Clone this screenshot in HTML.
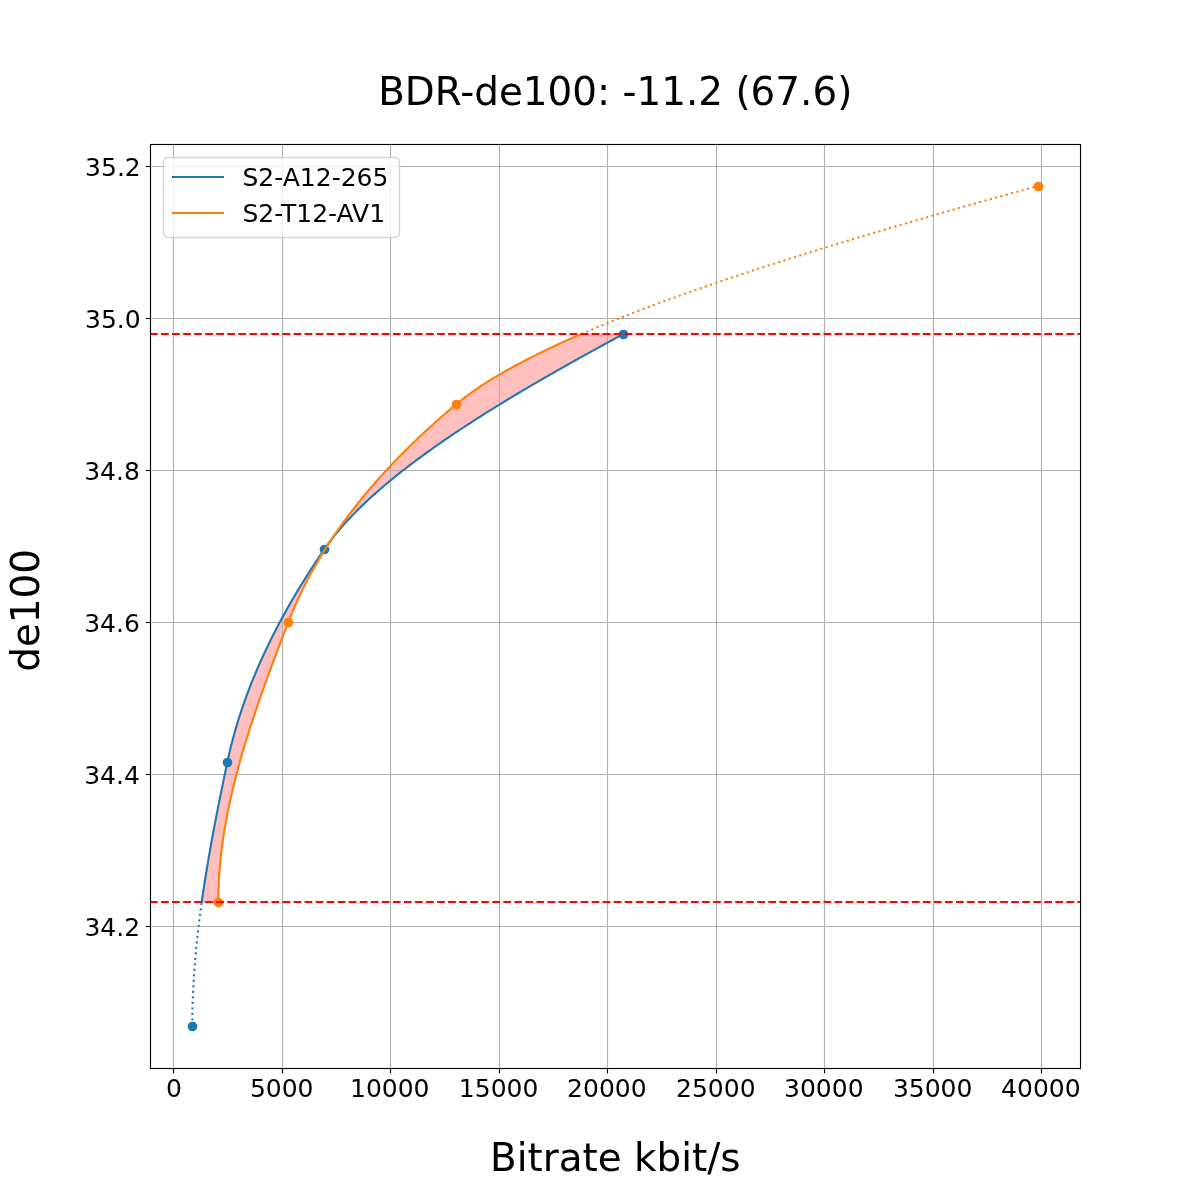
<!DOCTYPE html>
<html lang="en"><head><meta charset="utf-8"><title>BDR-de100</title>
<style>html,body{margin:0;padding:0;background:#fff}svg{display:block}</style></head>
<body>
<svg width="1200" height="1200" viewBox="0 0 1200 1200">
<rect x="0" y="0" width="1200" height="1200" fill="#ffffff"/>
<defs><clipPath id="ax"><rect x="150" y="144" width="930" height="924"/></clipPath></defs>
<g clip-path="url(#ax)">
<path d="M201.75 901.94 L202.15 899.08 L202.57 896.23 L202.98 893.38 L203.41 890.52 L203.84 887.67 L204.27 884.82 L204.72 881.96 L205.16 879.11 L205.62 876.26 L206.08 873.40 L206.54 870.55 L207.02 867.70 L207.49 864.84 L207.97 861.99 L208.46 859.14 L208.95 856.28 L209.45 853.43 L209.95 850.57 L210.46 847.72 L210.97 844.87 L211.49 842.01 L212.01 839.16 L212.53 836.31 L213.06 833.45 L213.60 830.60 L214.13 827.75 L214.68 824.89 L215.22 822.04 L215.77 819.19 L216.32 816.33 L216.88 813.48 L217.44 810.63 L218.00 807.77 L218.56 804.92 L219.13 802.06 L219.70 799.21 L220.28 796.36 L220.85 793.50 L221.43 790.65 L222.01 787.80 L222.60 784.94 L223.18 782.09 L223.77 779.24 L224.36 776.38 L224.95 773.53 L225.55 770.68 L226.14 767.82 L226.74 764.97 L227.34 762.11 L227.94 759.26 L228.57 756.41 L229.22 753.55 L229.89 750.70 L230.58 747.85 L231.29 744.99 L232.02 742.14 L232.77 739.29 L233.53 736.43 L234.32 733.58 L235.13 730.73 L235.95 727.87 L236.80 725.02 L237.67 722.17 L238.55 719.31 L239.45 716.46 L240.38 713.60 L241.32 710.75 L242.28 707.90 L243.26 705.04 L244.26 702.19 L245.28 699.34 L246.31 696.48 L247.37 693.63 L248.45 690.78 L249.54 687.92 L250.65 685.07 L251.78 682.22 L252.93 679.36 L254.10 676.51 L255.29 673.65 L256.49 670.80 L257.72 667.95 L258.96 665.09 L260.22 662.24 L261.50 659.39 L262.80 656.53 L264.11 653.68 L265.45 650.83 L266.80 647.97 L268.17 645.12 L269.56 642.27 L270.96 639.41 L272.39 636.56 L273.83 633.71 L275.29 630.85 L276.76 628.00 L278.26 625.14 L279.77 622.29 L281.30 619.44 L282.85 616.58 L284.42 613.73 L286.00 610.88 L287.60 608.02 L289.22 605.17 L290.85 602.32 L292.50 599.46 L294.17 596.61 L295.86 593.76 L297.56 590.90 L299.28 588.05 L301.02 585.20 L302.78 582.34 L304.55 579.49 L306.34 576.63 L308.14 573.78 L309.97 570.93 L311.81 568.07 L313.66 565.22 L315.53 562.37 L317.42 559.51 L319.33 556.66 L321.25 553.81 L323.19 550.95 L325.15 548.10 L327.17 545.25 L329.26 542.39 L331.41 539.54 L333.64 536.68 L335.94 533.83 L338.30 530.98 L340.73 528.12 L343.22 525.27 L345.78 522.42 L348.40 519.56 L351.09 516.71 L353.84 513.86 L356.66 511.00 L359.53 508.15 L362.47 505.30 L365.47 502.44 L368.52 499.59 L371.64 496.74 L374.81 493.88 L378.04 491.03 L381.33 488.17 L384.67 485.32 L388.07 482.47 L391.52 479.61 L395.03 476.76 L398.58 473.91 L402.20 471.05 L405.86 468.20 L409.58 465.35 L413.34 462.49 L417.16 459.64 L421.02 456.79 L424.93 453.93 L428.89 451.08 L432.90 448.23 L436.95 445.37 L441.05 442.52 L445.19 439.66 L449.37 436.81 L453.60 433.96 L457.88 431.10 L462.19 428.25 L466.54 425.40 L470.94 422.54 L475.38 419.69 L479.85 416.84 L484.36 413.98 L488.91 411.13 L493.50 408.28 L498.12 405.42 L502.78 402.57 L507.47 399.71 L512.20 396.86 L516.96 394.01 L521.75 391.15 L526.58 388.30 L531.43 385.45 L536.32 382.59 L541.24 379.74 L546.18 376.89 L551.16 374.03 L556.16 371.18 L561.19 368.33 L566.24 365.47 L571.32 362.62 L576.43 359.77 L581.56 356.91 L586.71 354.06 L591.89 351.20 L597.08 348.35 L602.30 345.50 L607.54 342.64 L612.80 339.79 L618.08 336.94 L623.38 334.08 L581.17 334.08 L574.62 336.94 L568.19 339.79 L561.87 342.64 L555.67 345.50 L549.59 348.35 L543.62 351.20 L537.77 354.06 L532.05 356.91 L526.45 359.77 L520.97 362.62 L515.62 365.47 L510.40 368.33 L505.31 371.18 L500.35 374.03 L495.52 376.89 L490.83 379.74 L486.27 382.59 L481.85 385.45 L477.56 388.30 L473.42 391.15 L469.42 394.01 L465.56 396.86 L461.85 399.71 L458.29 402.57 L454.85 405.42 L451.47 408.28 L448.13 411.13 L444.82 413.98 L441.54 416.84 L438.30 419.69 L435.09 422.54 L431.92 425.40 L428.78 428.25 L425.67 431.10 L422.60 433.96 L419.56 436.81 L416.55 439.66 L413.58 442.52 L410.64 445.37 L407.73 448.23 L404.86 451.08 L402.02 453.93 L399.21 456.79 L396.43 459.64 L393.69 462.49 L390.98 465.35 L388.30 468.20 L385.65 471.05 L383.04 473.91 L380.45 476.76 L377.90 479.61 L375.38 482.47 L372.89 485.32 L370.44 488.17 L368.01 491.03 L365.62 493.88 L363.25 496.74 L360.92 499.59 L358.62 502.44 L356.35 505.30 L354.11 508.15 L351.90 511.00 L349.72 513.86 L347.57 516.71 L345.45 519.56 L343.36 522.42 L341.30 525.27 L339.27 528.12 L337.27 530.98 L335.30 533.83 L333.36 536.68 L331.45 539.54 L329.57 542.39 L327.71 545.25 L325.89 548.10 L324.09 550.95 L322.33 553.81 L320.59 556.66 L318.88 559.51 L317.20 562.37 L315.54 565.22 L313.92 568.07 L312.32 570.93 L310.75 573.78 L309.21 576.63 L307.70 579.49 L306.21 582.34 L304.75 585.20 L303.32 588.05 L301.91 590.90 L300.54 593.76 L299.18 596.61 L297.86 599.46 L296.56 602.32 L295.29 605.17 L294.05 608.02 L292.83 610.88 L291.64 613.73 L290.48 616.58 L289.34 619.44 L288.22 622.29 L287.12 625.14 L286.02 628.00 L284.93 630.85 L283.83 633.71 L282.74 636.56 L281.65 639.41 L280.56 642.27 L279.47 645.12 L278.39 647.97 L277.31 650.83 L276.23 653.68 L275.16 656.53 L274.09 659.39 L273.02 662.24 L271.96 665.09 L270.90 667.95 L269.85 670.80 L268.80 673.65 L267.76 676.51 L266.72 679.36 L265.69 682.22 L264.66 685.07 L263.64 687.92 L262.62 690.78 L261.61 693.63 L260.61 696.48 L259.61 699.34 L258.62 702.19 L257.64 705.04 L256.66 707.90 L255.69 710.75 L254.73 713.60 L253.78 716.46 L252.84 719.31 L251.90 722.17 L250.97 725.02 L250.05 727.87 L249.14 730.73 L248.24 733.58 L247.34 736.43 L246.46 739.29 L245.59 742.14 L244.72 744.99 L243.87 747.85 L243.02 750.70 L242.19 753.55 L241.37 756.41 L240.55 759.26 L239.75 762.11 L238.96 764.97 L238.19 767.82 L237.42 770.68 L236.66 773.53 L235.92 776.38 L235.19 779.24 L234.47 782.09 L233.77 784.94 L233.07 787.80 L232.40 790.65 L231.73 793.50 L231.08 796.36 L230.44 799.21 L229.81 802.06 L229.20 804.92 L228.60 807.77 L228.02 810.63 L227.45 813.48 L226.90 816.33 L226.36 819.19 L225.84 822.04 L225.34 824.89 L224.84 827.75 L224.37 830.60 L223.91 833.45 L223.47 836.31 L223.04 839.16 L222.63 842.01 L222.24 844.87 L221.86 847.72 L221.51 850.57 L221.17 853.43 L220.84 856.28 L220.54 859.14 L220.25 861.99 L219.99 864.84 L219.74 867.70 L219.51 870.55 L219.29 873.40 L219.10 876.26 L218.93 879.11 L218.77 881.96 L218.64 884.82 L218.53 887.67 L218.43 890.52 L218.36 893.38 L218.31 896.23 L218.28 899.08 L218.27 901.94Z" fill="#ff0000" fill-opacity="0.25" stroke="#ff0000" stroke-opacity="0.25" stroke-width="1.389"/>
</g>
<g stroke="#b0b0b0" stroke-width="1.111" clip-path="url(#ax)">
<line x1="173.5" y1="144" x2="173.5" y2="1068"/>
<line x1="282.5" y1="144" x2="282.5" y2="1068"/>
<line x1="390.5" y1="144" x2="390.5" y2="1068"/>
<line x1="499.5" y1="144" x2="499.5" y2="1068"/>
<line x1="607.5" y1="144" x2="607.5" y2="1068"/>
<line x1="716.5" y1="144" x2="716.5" y2="1068"/>
<line x1="824.5" y1="144" x2="824.5" y2="1068"/>
<line x1="933.5" y1="144" x2="933.5" y2="1068"/>
<line x1="1041.5" y1="144" x2="1041.5" y2="1068"/>
<line x1="150" y1="926.5" x2="1080" y2="926.5"/>
<line x1="150" y1="774.5" x2="1080" y2="774.5"/>
<line x1="150" y1="622.5" x2="1080" y2="622.5"/>
<line x1="150" y1="470.5" x2="1080" y2="470.5"/>
<line x1="150" y1="318.5" x2="1080" y2="318.5"/>
<line x1="150" y1="166.5" x2="1080" y2="166.5"/>
</g>
<g stroke="#000000" stroke-width="1.111">
<line x1="173.5" y1="1068.50" x2="173.5" y2="1073.36"/>
<line x1="282.5" y1="1068.50" x2="282.5" y2="1073.36"/>
<line x1="390.5" y1="1068.50" x2="390.5" y2="1073.36"/>
<line x1="499.5" y1="1068.50" x2="499.5" y2="1073.36"/>
<line x1="607.5" y1="1068.50" x2="607.5" y2="1073.36"/>
<line x1="716.5" y1="1068.50" x2="716.5" y2="1073.36"/>
<line x1="824.5" y1="1068.50" x2="824.5" y2="1073.36"/>
<line x1="933.5" y1="1068.50" x2="933.5" y2="1073.36"/>
<line x1="1041.5" y1="1068.50" x2="1041.5" y2="1073.36"/>
<line x1="145.64" y1="926.5" x2="150.50" y2="926.5"/>
<line x1="145.64" y1="774.5" x2="150.50" y2="774.5"/>
<line x1="145.64" y1="622.5" x2="150.50" y2="622.5"/>
<line x1="145.64" y1="470.5" x2="150.50" y2="470.5"/>
<line x1="145.64" y1="318.5" x2="150.50" y2="318.5"/>
<line x1="145.64" y1="166.5" x2="150.50" y2="166.5"/>
</g>
<g font-family="'DejaVu Sans', 'Liberation Sans', sans-serif" font-size="25.000px" fill="#000000">
<text x="173.95" y="1096.72" text-anchor="middle">0</text>
<text x="281.70" y="1096.72" text-anchor="middle">5000</text>
<text x="389.78" y="1096.72" text-anchor="middle">10000</text>
<text x="498.62" y="1096.72" text-anchor="middle">15000</text>
<text x="606.87" y="1096.72" text-anchor="middle">20000</text>
<text x="715.79" y="1096.72" text-anchor="middle">25000</text>
<text x="823.83" y="1096.72" text-anchor="middle">30000</text>
<text x="932.66" y="1096.72" text-anchor="middle">35000</text>
<text x="1040.85" y="1096.72" text-anchor="middle">40000</text>
<text x="140.08" y="935.91" text-anchor="end">34.2</text>
<text x="139.88" y="783.88" text-anchor="end">34.4</text>
<text x="139.88" y="631.84" text-anchor="end">34.6</text>
<text x="139.88" y="479.81" text-anchor="end">34.8</text>
<text x="140.68" y="327.77" text-anchor="end">35.0</text>
<text x="140.78" y="175.73" text-anchor="end">35.2</text>
</g>
<g clip-path="url(#ax)" stroke-linejoin="round">
<circle cx="192.50" cy="1026.50" r="4.167" fill="#1f77b4" stroke="#1f77b4" stroke-width="1.389"/>
<circle cx="227.50" cy="762.50" r="4.167" fill="#1f77b4" stroke="#1f77b4" stroke-width="1.389"/>
<circle cx="324.50" cy="549.50" r="4.167" fill="#1f77b4" stroke="#1f77b4" stroke-width="1.389"/>
<circle cx="623.50" cy="334.50" r="4.167" fill="#1f77b4" stroke="#1f77b4" stroke-width="1.389"/>
<path d="M201.75 901.94 L202.15 899.08 L202.57 896.23 L202.98 893.38 L203.41 890.52 L203.84 887.67 L204.27 884.82 L204.72 881.96 L205.16 879.11 L205.62 876.26 L206.08 873.40 L206.54 870.55 L207.02 867.70 L207.49 864.84 L207.97 861.99 L208.46 859.14 L208.95 856.28 L209.45 853.43 L209.95 850.57 L210.46 847.72 L210.97 844.87 L211.49 842.01 L212.01 839.16 L212.53 836.31 L213.06 833.45 L213.60 830.60 L214.13 827.75 L214.68 824.89 L215.22 822.04 L215.77 819.19 L216.32 816.33 L216.88 813.48 L217.44 810.63 L218.00 807.77 L218.56 804.92 L219.13 802.06 L219.70 799.21 L220.28 796.36 L220.85 793.50 L221.43 790.65 L222.01 787.80 L222.60 784.94 L223.18 782.09 L223.77 779.24 L224.36 776.38 L224.95 773.53 L225.55 770.68 L226.14 767.82 L226.74 764.97 L227.34 762.11 L227.94 759.26 L228.57 756.41 L229.22 753.55 L229.89 750.70 L230.58 747.85 L231.29 744.99 L232.02 742.14 L232.77 739.29 L233.53 736.43 L234.32 733.58 L235.13 730.73 L235.95 727.87 L236.80 725.02 L237.67 722.17 L238.55 719.31 L239.45 716.46 L240.38 713.60 L241.32 710.75 L242.28 707.90 L243.26 705.04 L244.26 702.19 L245.28 699.34 L246.31 696.48 L247.37 693.63 L248.45 690.78 L249.54 687.92 L250.65 685.07 L251.78 682.22 L252.93 679.36 L254.10 676.51 L255.29 673.65 L256.49 670.80 L257.72 667.95 L258.96 665.09 L260.22 662.24 L261.50 659.39 L262.80 656.53 L264.11 653.68 L265.45 650.83 L266.80 647.97 L268.17 645.12 L269.56 642.27 L270.96 639.41 L272.39 636.56 L273.83 633.71 L275.29 630.85 L276.76 628.00 L278.26 625.14 L279.77 622.29 L281.30 619.44 L282.85 616.58 L284.42 613.73 L286.00 610.88 L287.60 608.02 L289.22 605.17 L290.85 602.32 L292.50 599.46 L294.17 596.61 L295.86 593.76 L297.56 590.90 L299.28 588.05 L301.02 585.20 L302.78 582.34 L304.55 579.49 L306.34 576.63 L308.14 573.78 L309.97 570.93 L311.81 568.07 L313.66 565.22 L315.53 562.37 L317.42 559.51 L319.33 556.66 L321.25 553.81 L323.19 550.95 L325.15 548.10 L327.17 545.25 L329.26 542.39 L331.41 539.54 L333.64 536.68 L335.94 533.83 L338.30 530.98 L340.73 528.12 L343.22 525.27 L345.78 522.42 L348.40 519.56 L351.09 516.71 L353.84 513.86 L356.66 511.00 L359.53 508.15 L362.47 505.30 L365.47 502.44 L368.52 499.59 L371.64 496.74 L374.81 493.88 L378.04 491.03 L381.33 488.17 L384.67 485.32 L388.07 482.47 L391.52 479.61 L395.03 476.76 L398.58 473.91 L402.20 471.05 L405.86 468.20 L409.58 465.35 L413.34 462.49 L417.16 459.64 L421.02 456.79 L424.93 453.93 L428.89 451.08 L432.90 448.23 L436.95 445.37 L441.05 442.52 L445.19 439.66 L449.37 436.81 L453.60 433.96 L457.88 431.10 L462.19 428.25 L466.54 425.40 L470.94 422.54 L475.38 419.69 L479.85 416.84 L484.36 413.98 L488.91 411.13 L493.50 408.28 L498.12 405.42 L502.78 402.57 L507.47 399.71 L512.20 396.86 L516.96 394.01 L521.75 391.15 L526.58 388.30 L531.43 385.45 L536.32 382.59 L541.24 379.74 L546.18 376.89 L551.16 374.03 L556.16 371.18 L561.19 368.33 L566.24 365.47 L571.32 362.62 L576.43 359.77 L581.56 356.91 L586.71 354.06 L591.89 351.20 L597.08 348.35 L602.30 345.50 L607.54 342.64 L612.80 339.79 L618.08 336.94 L623.38 334.08" fill="none" stroke="#1f77b4" stroke-width="2.083" stroke-linecap="square"/>
<path d="M192.27 1026.00 L192.27 1025.38 L192.27 1024.75 L192.28 1024.13 L192.28 1023.51 L192.28 1022.88 L192.28 1022.26 L192.29 1021.64 L192.29 1021.01 L192.30 1020.39 L192.30 1019.77 L192.31 1019.14 L192.31 1018.52 L192.32 1017.90 L192.33 1017.27 L192.33 1016.65 L192.34 1016.03 L192.35 1015.40 L192.36 1014.78 L192.37 1014.15 L192.38 1013.53 L192.39 1012.91 L192.41 1012.28 L192.42 1011.66 L192.43 1011.04 L192.44 1010.41 L192.46 1009.79 L192.47 1009.17 L192.49 1008.54 L192.50 1007.92 L192.52 1007.30 L192.53 1006.67 L192.55 1006.05 L192.57 1005.43 L192.59 1004.80 L192.61 1004.18 L192.62 1003.56 L192.64 1002.93 L192.66 1002.31 L192.68 1001.69 L192.71 1001.06 L192.73 1000.44 L192.75 999.82 L192.77 999.19 L192.79 998.57 L192.82 997.95 L192.84 997.32 L192.87 996.70 L192.89 996.08 L192.92 995.45 L192.94 994.83 L192.97 994.21 L193.00 993.58 L193.02 992.96 L193.05 992.34 L193.08 991.71 L193.11 991.09 L193.14 990.46 L193.17 989.84 L193.20 989.22 L193.23 988.59 L193.26 987.97 L193.30 987.35 L193.33 986.72 L193.36 986.10 L193.39 985.48 L193.43 984.85 L193.46 984.23 L193.50 983.61 L193.53 982.98 L193.57 982.36 L193.60 981.74 L193.64 981.11 L193.68 980.49 L193.72 979.87 L193.75 979.24 L193.79 978.62 L193.83 978.00 L193.87 977.37 L193.91 976.75 L193.95 976.13 L193.99 975.50 L194.04 974.88 L194.08 974.26 L194.12 973.63 L194.16 973.01 L194.21 972.39 L194.25 971.76 L194.29 971.14 L194.34 970.52 L194.38 969.89 L194.43 969.27 L194.47 968.64 L194.52 968.02 L194.57 967.40 L194.62 966.77 L194.66 966.15 L194.71 965.53 L194.76 964.90 L194.81 964.28 L194.86 963.66 L194.91 963.03 L194.96 962.41 L195.01 961.79 L195.06 961.16 L195.11 960.54 L195.17 959.92 L195.22 959.29 L195.27 958.67 L195.32 958.05 L195.38 957.42 L195.43 956.80 L195.49 956.18 L195.54 955.55 L195.60 954.93 L195.65 954.31 L195.71 953.68 L195.77 953.06 L195.82 952.44 L195.88 951.81 L195.94 951.19 L196.00 950.57 L196.06 949.94 L196.12 949.32 L196.18 948.70 L196.24 948.07 L196.30 947.45 L196.36 946.83 L196.42 946.20 L196.48 945.58 L196.54 944.95 L196.61 944.33 L196.67 943.71 L196.73 943.08 L196.80 942.46 L196.86 941.84 L196.93 941.21 L196.99 940.59 L197.06 939.97 L197.12 939.34 L197.19 938.72 L197.26 938.10 L197.32 937.47 L197.39 936.85 L197.46 936.23 L197.53 935.60 L197.59 934.98 L197.66 934.36 L197.73 933.73 L197.80 933.11 L197.87 932.49 L197.94 931.86 L198.01 931.24 L198.08 930.62 L198.16 929.99 L198.23 929.37 L198.30 928.75 L198.37 928.12 L198.45 927.50 L198.52 926.88 L198.59 926.25 L198.67 925.63 L198.74 925.01 L198.82 924.38 L198.89 923.76 L198.97 923.13 L199.04 922.51 L199.12 921.89 L199.20 921.26 L199.28 920.64 L199.35 920.02 L199.43 919.39 L199.51 918.77 L199.59 918.15 L199.67 917.52 L199.75 916.90 L199.83 916.28 L199.91 915.65 L199.99 915.03 L200.07 914.41 L200.15 913.78 L200.23 913.16 L200.31 912.54 L200.39 911.91 L200.47 911.29 L200.56 910.67 L200.64 910.04 L200.72 909.42 L200.81 908.80 L200.89 908.17 L200.98 907.55 L201.06 906.93 L201.15 906.30 L201.23 905.68 L201.32 905.06 L201.40 904.43 L201.49 903.81 L201.58 903.19 L201.66 902.56 L201.75 901.94" fill="none" stroke="#1f77b4" stroke-width="2.083" stroke-dasharray="2.083 3.437"/>
<circle cx="218.50" cy="902.50" r="4.167" fill="#ff7f0e" stroke="#ff7f0e" stroke-width="1.389"/>
<circle cx="288.50" cy="622.50" r="4.167" fill="#ff7f0e" stroke="#ff7f0e" stroke-width="1.389"/>
<circle cx="456.50" cy="404.50" r="4.167" fill="#ff7f0e" stroke="#ff7f0e" stroke-width="1.389"/>
<circle cx="1038.50" cy="186.50" r="4.167" fill="#ff7f0e" stroke="#ff7f0e" stroke-width="1.389"/>
<path d="M218.27 901.94 L218.28 899.08 L218.31 896.23 L218.36 893.38 L218.43 890.52 L218.53 887.67 L218.64 884.82 L218.77 881.96 L218.93 879.11 L219.10 876.26 L219.29 873.40 L219.51 870.55 L219.74 867.70 L219.99 864.84 L220.25 861.99 L220.54 859.14 L220.84 856.28 L221.17 853.43 L221.51 850.57 L221.86 847.72 L222.24 844.87 L222.63 842.01 L223.04 839.16 L223.47 836.31 L223.91 833.45 L224.37 830.60 L224.84 827.75 L225.34 824.89 L225.84 822.04 L226.36 819.19 L226.90 816.33 L227.45 813.48 L228.02 810.63 L228.60 807.77 L229.20 804.92 L229.81 802.06 L230.44 799.21 L231.08 796.36 L231.73 793.50 L232.40 790.65 L233.07 787.80 L233.77 784.94 L234.47 782.09 L235.19 779.24 L235.92 776.38 L236.66 773.53 L237.42 770.68 L238.19 767.82 L238.96 764.97 L239.75 762.11 L240.55 759.26 L241.37 756.41 L242.19 753.55 L243.02 750.70 L243.87 747.85 L244.72 744.99 L245.59 742.14 L246.46 739.29 L247.34 736.43 L248.24 733.58 L249.14 730.73 L250.05 727.87 L250.97 725.02 L251.90 722.17 L252.84 719.31 L253.78 716.46 L254.73 713.60 L255.69 710.75 L256.66 707.90 L257.64 705.04 L258.62 702.19 L259.61 699.34 L260.61 696.48 L261.61 693.63 L262.62 690.78 L263.64 687.92 L264.66 685.07 L265.69 682.22 L266.72 679.36 L267.76 676.51 L268.80 673.65 L269.85 670.80 L270.90 667.95 L271.96 665.09 L273.02 662.24 L274.09 659.39 L275.16 656.53 L276.23 653.68 L277.31 650.83 L278.39 647.97 L279.47 645.12 L280.56 642.27 L281.65 639.41 L282.74 636.56 L283.83 633.71 L284.93 630.85 L286.02 628.00 L287.12 625.14 L288.22 622.29 L289.34 619.44 L290.48 616.58 L291.64 613.73 L292.83 610.88 L294.05 608.02 L295.29 605.17 L296.56 602.32 L297.86 599.46 L299.18 596.61 L300.54 593.76 L301.91 590.90 L303.32 588.05 L304.75 585.20 L306.21 582.34 L307.70 579.49 L309.21 576.63 L310.75 573.78 L312.32 570.93 L313.92 568.07 L315.54 565.22 L317.20 562.37 L318.88 559.51 L320.59 556.66 L322.33 553.81 L324.09 550.95 L325.89 548.10 L327.71 545.25 L329.57 542.39 L331.45 539.54 L333.36 536.68 L335.30 533.83 L337.27 530.98 L339.27 528.12 L341.30 525.27 L343.36 522.42 L345.45 519.56 L347.57 516.71 L349.72 513.86 L351.90 511.00 L354.11 508.15 L356.35 505.30 L358.62 502.44 L360.92 499.59 L363.25 496.74 L365.62 493.88 L368.01 491.03 L370.44 488.17 L372.89 485.32 L375.38 482.47 L377.90 479.61 L380.45 476.76 L383.04 473.91 L385.65 471.05 L388.30 468.20 L390.98 465.35 L393.69 462.49 L396.43 459.64 L399.21 456.79 L402.02 453.93 L404.86 451.08 L407.73 448.23 L410.64 445.37 L413.58 442.52 L416.55 439.66 L419.56 436.81 L422.60 433.96 L425.67 431.10 L428.78 428.25 L431.92 425.40 L435.09 422.54 L438.30 419.69 L441.54 416.84 L444.82 413.98 L448.13 411.13 L451.47 408.28 L454.85 405.42 L458.29 402.57 L461.85 399.71 L465.56 396.86 L469.42 394.01 L473.42 391.15 L477.56 388.30 L481.85 385.45 L486.27 382.59 L490.83 379.74 L495.52 376.89 L500.35 374.03 L505.31 371.18 L510.40 368.33 L515.62 365.47 L520.97 362.62 L526.45 359.77 L532.05 356.91 L537.77 354.06 L543.62 351.20 L549.59 348.35 L555.67 345.50 L561.87 342.64 L568.19 339.79 L574.62 336.94 L581.17 334.08" fill="none" stroke="#ff7f0e" stroke-width="2.083" stroke-linecap="square"/>
<path d="M581.17 334.08 L582.89 333.34 L584.63 332.59 L586.37 331.85 L588.11 331.11 L589.87 330.36 L591.63 329.62 L593.40 328.87 L595.18 328.13 L596.96 327.39 L598.76 326.64 L600.55 325.90 L602.36 325.15 L604.17 324.41 L606.00 323.67 L607.82 322.92 L609.66 322.18 L611.50 321.43 L613.35 320.69 L615.21 319.94 L617.07 319.20 L618.94 318.46 L620.82 317.71 L622.70 316.97 L624.59 316.22 L626.49 315.48 L628.40 314.74 L630.31 313.99 L632.23 313.25 L634.15 312.50 L636.09 311.76 L638.03 311.02 L639.97 310.27 L641.92 309.53 L643.88 308.78 L645.85 308.04 L647.82 307.29 L649.80 306.55 L651.79 305.81 L653.78 305.06 L655.78 304.32 L657.78 303.57 L659.80 302.83 L661.81 302.09 L663.84 301.34 L665.87 300.60 L667.91 299.85 L669.95 299.11 L672.00 298.36 L674.05 297.62 L676.12 296.88 L678.19 296.13 L680.26 295.39 L682.34 294.64 L684.43 293.90 L686.52 293.16 L688.62 292.41 L690.72 291.67 L692.84 290.92 L694.95 290.18 L697.08 289.44 L699.20 288.69 L701.34 287.95 L703.48 287.20 L705.63 286.46 L707.78 285.71 L709.94 284.97 L712.10 284.23 L714.27 283.48 L716.45 282.74 L718.63 281.99 L720.81 281.25 L723.01 280.51 L725.20 279.76 L727.41 279.02 L729.62 278.27 L731.83 277.53 L734.05 276.78 L736.28 276.04 L738.51 275.30 L740.74 274.55 L742.99 273.81 L745.23 273.06 L747.49 272.32 L749.74 271.58 L752.01 270.83 L754.28 270.09 L756.55 269.34 L758.83 268.60 L761.11 267.86 L763.40 267.11 L765.70 266.37 L767.99 265.62 L770.30 264.88 L772.61 264.13 L774.92 263.39 L777.24 262.65 L779.57 261.90 L781.90 261.16 L784.23 260.41 L786.57 259.67 L788.91 258.93 L791.26 258.18 L793.62 257.44 L795.97 256.69 L798.34 255.95 L800.70 255.20 L803.08 254.46 L805.45 253.72 L807.84 252.97 L810.22 252.23 L812.61 251.48 L815.01 250.74 L817.41 250.00 L819.81 249.25 L822.22 248.51 L824.63 247.76 L827.05 247.02 L829.47 246.28 L831.90 245.53 L834.33 244.79 L836.77 244.04 L839.21 243.30 L841.65 242.55 L844.10 241.81 L846.55 241.07 L849.01 240.32 L851.47 239.58 L853.93 238.83 L856.40 238.09 L858.87 237.35 L861.35 236.60 L863.83 235.86 L866.31 235.11 L868.80 234.37 L871.29 233.62 L873.79 232.88 L876.29 232.14 L878.79 231.39 L881.30 230.65 L883.81 229.90 L886.33 229.16 L888.85 228.42 L891.37 227.67 L893.90 226.93 L896.43 226.18 L898.96 225.44 L901.50 224.70 L904.04 223.95 L906.58 223.21 L909.13 222.46 L911.68 221.72 L914.24 220.97 L916.80 220.23 L919.36 219.49 L921.92 218.74 L924.49 218.00 L927.07 217.25 L929.64 216.51 L932.22 215.77 L934.80 215.02 L937.39 214.28 L939.97 213.53 L942.56 212.79 L945.16 212.04 L947.76 211.30 L950.36 210.56 L952.96 209.81 L955.57 209.07 L958.18 208.32 L960.79 207.58 L963.41 206.84 L966.02 206.09 L968.65 205.35 L971.27 204.60 L973.90 203.86 L976.53 203.12 L979.16 202.37 L981.79 201.63 L984.43 200.88 L987.07 200.14 L989.72 199.39 L992.36 198.65 L995.01 197.91 L997.66 197.16 L1000.32 196.42 L1002.97 195.67 L1005.63 194.93 L1008.29 194.19 L1010.96 193.44 L1013.62 192.70 L1016.29 191.95 L1018.96 191.21 L1021.64 190.46 L1024.31 189.72 L1026.99 188.98 L1029.67 188.23 L1032.36 187.49 L1035.04 186.74 L1037.73 186.00" fill="none" stroke="#ff7f0e" stroke-width="2.083" stroke-dasharray="2.083 3.437"/>
<line x1="150" y1="902.0" x2="1080" y2="902.0" stroke="#ff0000" stroke-width="2.083" stroke-dasharray="7.708 3.333"/>
<line x1="150" y1="334.0" x2="1080" y2="334.0" stroke="#ff0000" stroke-width="2.083" stroke-dasharray="7.708 3.333"/>
</g>
<rect x="150.5" y="144.5" width="930" height="924" fill="none" stroke="#000000" stroke-width="1.111" stroke-linejoin="miter"/>
<path d="M168.50 237.50 L394.50 237.50 Q399.50 237.50 399.50 232.50 L399.50 162.50 Q399.50 157.50 394.50 157.50 L168.50 157.50 Q163.50 157.50 163.50 162.50 L163.50 232.50 Q163.50 237.50 168.50 237.50Z" fill="#ffffff" stroke="#cccccc" stroke-width="1.389" opacity="0.8"/>
<line x1="173.00" y1="177.0" x2="223.00" y2="177.0" stroke="#1f77b4" stroke-width="2.083" stroke-linecap="square"/>
<text x="242.50" y="185.50" font-family="'DejaVu Sans', 'Liberation Sans', sans-serif" font-size="25.000px" fill="#000">S2-A12-265</text>
<line x1="173.00" y1="213.0" x2="223.00" y2="213.0" stroke="#ff7f0e" stroke-width="2.083" stroke-linecap="square"/>
<text x="242.50" y="222.19" font-family="'DejaVu Sans', 'Liberation Sans', sans-serif" font-size="25.000px" fill="#000">S2-T12-AV1</text>
<text x="615.31" y="1170.86" text-anchor="middle" font-family="'DejaVu Sans', 'Liberation Sans', sans-serif" font-size="38.889px" fill="#000">Bitrate kbit/s</text>
<text transform="translate(38.64 610.40) rotate(-90)" text-anchor="middle" font-family="'DejaVu Sans', 'Liberation Sans', sans-serif" font-size="38.889px" fill="#000">de100</text>
<text x="615.25" y="105.11" text-anchor="middle" font-family="'DejaVu Sans', 'Liberation Sans', sans-serif" font-size="38.889px" fill="#000">BDR-de100: -11.2 (67.6)</text>
</svg>
</body></html>
